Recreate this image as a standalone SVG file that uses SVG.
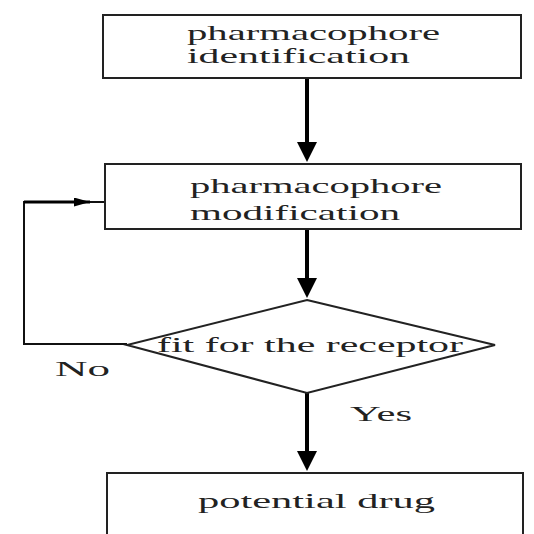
<svg xmlns="http://www.w3.org/2000/svg" width="534" height="534" viewBox="0 0 534 534">
<defs>
<style>
.box{fill:#fff;stroke:#222;stroke-width:2}
.t{font-family:"Liberation Serif","Times New Roman",serif;font-size:21px;fill:#222}
.ln{fill:none;stroke:#111;stroke-width:2}
.ar{fill:none;stroke:#000;stroke-width:4}
</style>
<marker id="ah" markerWidth="5" markerHeight="5" refX="4" refY="2.5" orient="auto" markerUnits="strokeWidth">
<path d="M0,0 L5,2.5 L0,5 Z" fill="#000"/>
</marker>
<marker id="ahs" markerWidth="16" markerHeight="9" refX="16" refY="4.5" orient="auto" markerUnits="userSpaceOnUse">
<path d="M0,0 L16,4.5 L0,9 Z" fill="#000"/>
</marker>
</defs>
<rect width="534" height="534" fill="#fff"/>
<g id="connectors">
<line class="ar" x1="307" y1="78" x2="307" y2="158" marker-end="url(#ah)"/>
<line class="ar" x1="307" y1="229" x2="307" y2="294" marker-end="url(#ah)"/>
<line class="ar" x1="307" y1="393" x2="307" y2="467" marker-end="url(#ah)"/>
<polyline class="ln" points="127,344 24,344 24,202 105,202"/>
<line x1="24" y1="202" x2="90" y2="202" stroke="#000" stroke-width="3" marker-end="url(#ahs)"/>
</g>
<g id="n1">
<rect class="box" x="103" y="15" width="418" height="63"/>
<text class="t" x="187" y="40" font-size="20" textLength="253" lengthAdjust="spacingAndGlyphs">pharmacophore</text>
<text class="t" x="187" y="63" font-size="20" textLength="223" lengthAdjust="spacingAndGlyphs">identification</text>
</g>
<g id="n2">
<rect class="box" x="105" y="164" width="416" height="65"/>
<text class="t" x="190" y="193" textLength="252" lengthAdjust="spacingAndGlyphs">pharmacophore</text>
<text class="t" x="190" y="220" textLength="210" lengthAdjust="spacingAndGlyphs">modification</text>
</g>
<g id="n3">
<polygon class="box" points="307,300 495,345 307,393 127,345"/>
<text class="t" x="157" y="352" textLength="306" lengthAdjust="spacingAndGlyphs">fit for the receptor</text>
</g>
<g id="n4">
<rect class="box" x="107" y="473" width="416" height="70"/>
<text class="t" x="198" y="508" textLength="237" lengthAdjust="spacingAndGlyphs">potential drug</text>
</g>
<g id="labels">
<text class="t" x="55" y="376" textLength="55" lengthAdjust="spacingAndGlyphs">No</text>
<text class="t" x="350" y="421" textLength="62" lengthAdjust="spacingAndGlyphs">Yes</text>
</g>
</svg>
